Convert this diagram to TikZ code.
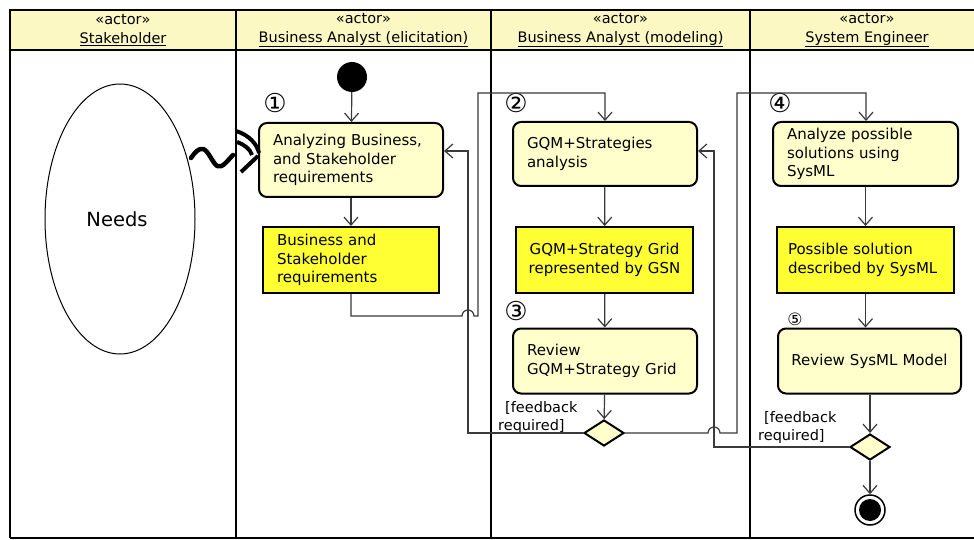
\documentclass[tikz,border=0pt]{standalone}
\usepackage{fontspec}
\setmainfont{DejaVu Sans}
\usetikzlibrary{arrows.meta,shapes.geometric}
\definecolor{lightyel}{HTML}{FFFFCC}
\definecolor{headyel}{HTML}{FCF8C4}
\definecolor{brightyel}{HTML}{FFFF33}
\definecolor{linegray}{HTML}{3A3A3A}
\tikzset{
  lane/.style={line width=2.5pt,black},
  act/.style={draw=black,line width=2pt,fill=lightyel,rounded corners=8pt,inner xsep=14pt,inner ysep=0pt,font=\fontsize{15}{18.5}\selectfont,align=left},
  obj/.style={draw=black,line width=2pt,fill=brightyel,inner xsep=14pt,inner ysep=0pt,font=\fontsize{15}{18.5}\selectfont,align=left},
  decis/.style={diamond,draw=black,line width=2pt,fill=lightyel,inner sep=0pt,minimum width=40pt,minimum height=26pt},
  flow/.style={draw=linegray,line width=1.2pt,-{Straight Barb[length=8pt,width=14pt,line width=1.2pt]}},
  hdr/.style={font=\fontsize{14.5}{19}\selectfont,align=center},
  num/.style={font=\fontsize{26}{26}\selectfont},
  guard/.style={font=\fontsize{14.5}{18.5}\selectfont,align=left,inner sep=0pt},
  trig/.style={line width=4.5pt,line cap=round,line join=round},
}
\begin{document}
\begin{tikzpicture}[x=1pt,y=-1pt]
\useasboundingbox (0,0) rectangle (974,540);
\fill[white] (0,0) rectangle (974,540);
% header band
\fill[headyel] (10,10) rectangle (980,50);
\draw[lane] (10,538) -- (10,10) -- (980,10);
\draw[lane] (10,50) -- (980,50);
\draw[lane] (10,538) -- (980,538);
\draw[lane] (236,10) -- (236,538);
\draw[lane] (491,10) -- (491,538);
\draw[lane] (750,10) -- (750,538);
% headers
\node[hdr] (h1) at (123,30) {«actor»\\\underline{Stakeholder}};
\node[hdr] (h2) at (363.5,30) {«actor»\\\underline{Business Analyst (elicitation)}};
\node[hdr] (h3) at (620.5,30) {«actor»\\\underline{Business Analyst (modeling)}};
\node[hdr] (h4) at (867,30) {«actor»\\\underline{System Engineer}};
% stakeholder ellipse
\draw[line width=1pt] (120,219) ellipse [x radius=75, y radius=135];
\node[font=\fontsize{19.5}{22}\selectfont] (needs) at (117,219) {Needs};
% start node
\node[circle,fill=black,minimum size=30pt,inner sep=0pt] (start) at (352,77) {};
% activities
\node[num] (n1) at (275,103) {①};
\node[act,minimum width=184pt,minimum height=74pt,text width=156pt] (a1) at (351,160) {Analyzing Business,\\and Stakeholder\\requirements};
\node[obj,minimum width=176pt,minimum height=66pt,text width=148pt] (o1) at (351,260) {Business and\\Stakeholder\\requirements};
\node[num] (n2) at (516,103) {②};
\node[act,minimum width=184pt,minimum height=64pt,text width=156pt] (a2) at (605,154) {GQM+Strategies\\analysis};
\node[obj,minimum width=177pt,minimum height=66pt,text width=165pt,align=center,inner xsep=6pt] (o2) at (604.5,260) {GQM+Strategy Grid\\represented by GSN};
\node[num] (n3) at (516,311) {③};
\node[act,minimum width=184pt,minimum height=65pt,text width=156pt] (a3) at (605,361) {Review\\GQM+Strategy Grid};
\node[decis] (d1) at (604,433) {};
\node[num] (n4) at (780,103) {④};
\node[act,minimum width=185pt,minimum height=64pt,text width=157pt] (a4) at (865.5,154) {Analyze possible\\solutions using\\SysML};
\node[obj,minimum width=177pt,minimum height=66pt,text width=155pt,inner xsep=11pt] (o4) at (865.5,260) {Possible solution\\described by SysML};
\node[font=\fontsize{17}{17}\selectfont] (n5) at (795,319) {⑤};
\node[act,minimum width=183pt,minimum height=65pt,text width=170pt,align=center,inner xsep=6pt] (a5) at (869.5,361) {Review SysML Model};
\node[decis] (d2) at (870,447) {};
\node[circle,draw=black,line width=1.5pt,fill=white,minimum size=30pt,inner sep=0pt] (end) at (870,510) {};
\node[circle,fill=black,minimum size=22pt,inner sep=0pt] at (end.center) {};
% guards
\node[guard,anchor=north west] (g1) at (498,401) {\hspace{7pt}[feedback\\required]};
\node[guard,anchor=north west] (g2) at (758,411) {\hspace{6pt}[feedback\\required]};
% coordinates
\coordinate (p1) at (351,316);
\coordinate (p2) at (478,316);
\coordinate (p3) at (478,93);
\coordinate (p4) at (605,93);
\coordinate (q1) at (468,433);
\coordinate (q2) at (468,151);
\coordinate (r1) at (737,433);
\coordinate (r2) at (737,93);
\coordinate (r3) at (866,93);
\coordinate (s1) at (714,447);
\coordinate (s2) at (714,151);
% flows
\draw[flow] (start) -- (a1);
\draw[flow] (a1) -- (o1);
\draw[flow] (a2) -- (o2);
\draw[flow] (o2) -- (a3);
\draw[flow] (a3) -- (d1);
\draw[flow] (a4.south -| o4) -- (o4);
\draw[flow] (o4.south) -- (o4.south |- a5.north);
\draw[flow] (a5.south -| d2) -- (d2);
\draw[flow] (d2) -- (end);
\draw[flow] (o1.south) -- (p1) -- (462,316) arc[start angle=180,end angle=360,radius=6] -- (p2) -- (p3) -- (p4) -- (a2.north);
\draw[flow] (d1.west) -- (q1) -- (q2) -- (a1.east |- q2);
\draw[flow] (d1.east) -- (708,433) arc[start angle=180,end angle=360,radius=6] -- (r1) -- (r2) -- (r3) -- (a4.north -| r3);
\draw[flow] (d2.west) -- (s1) -- (s2) -- (a2.east |- s2);
% wavy trigger
\draw[trig] (191,158) .. controls (195,152) and (199,148) .. (203,149) .. controls (208,150) and (212,162) .. (217,166) .. controls (222,169) and (228,160) .. (233,155);
\draw[line width=4pt] (236,131) .. controls (249,135) and (257,144) .. (259,153);
\draw[line width=4pt] (237,142) .. controls (245,145) and (250,149) .. (252,155);
\draw[line width=4pt] (241,172) -- (258,156);
\end{tikzpicture}
\end{document}
